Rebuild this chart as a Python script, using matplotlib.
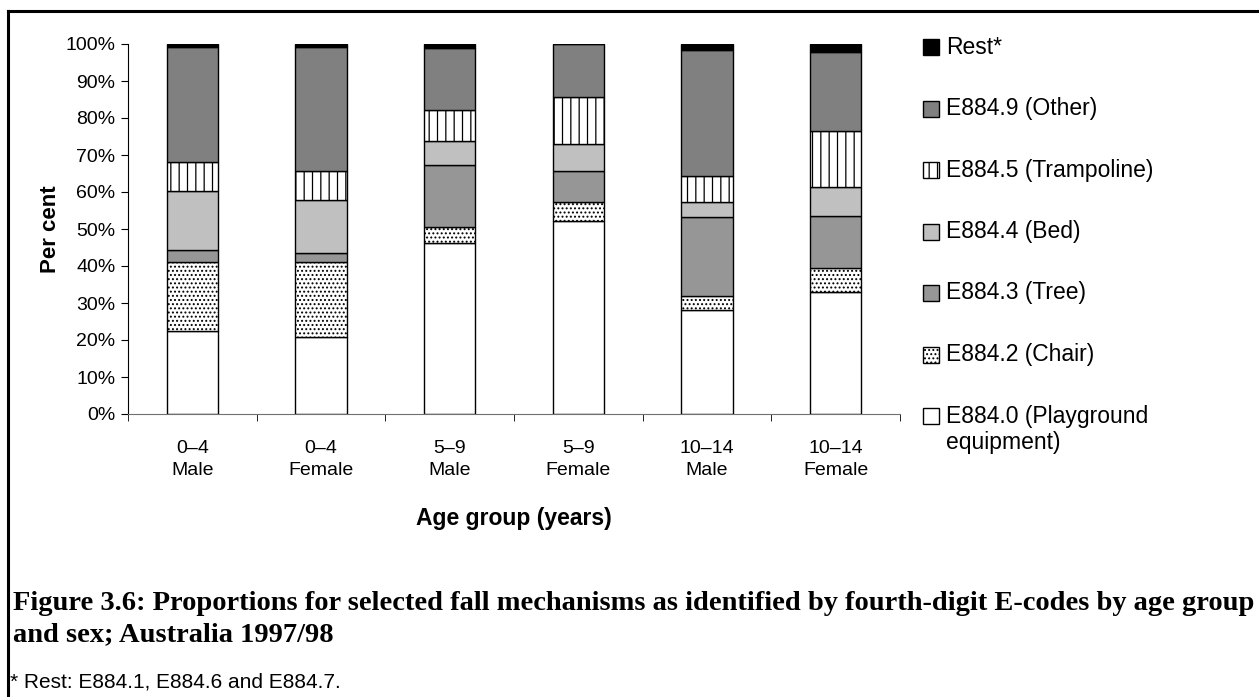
import matplotlib.pyplot as plt
import numpy as np
from matplotlib.patches import Rectangle
from matplotlib.lines import Line2D
from matplotlib.ticker import PercentFormatter

plt.rcParams['font.family'] = ['Liberation Sans', 'DejaVu Sans']
plt.rcParams['hatch.linewidth'] = 0.9

# Categories (age group / sex)
groups = ['0\u20134\nMale', '0\u20134\nFemale', '5\u20139\nMale',
          '5\u20139\nFemale', '10\u201314\nMale', '10\u201314\nFemale']

# Proportions (%), bottom to top
playground = [22.5, 20.9, 46.3, 52.2, 28.1, 32.9]
chair = [18.7, 20.1, 4.3, 5.2, 3.9, 6.5]
tree = [3.0, 2.4, 16.8, 8.2, 21.2, 14.2]
bed = [16.0, 14.4, 6.5, 7.4, 4.2, 7.8]
trampoline = [7.8, 7.9, 8.3, 12.8, 6.9, 15.2]
other = [31.3, 33.5, 16.7, 14.2, 34.1, 21.3]
rest = [0.8, 0.8, 1.1, 0.0, 1.6, 2.1]

series = [
    ('E884.0 (Playground\nequipment)', playground, 'white', None),
    ('E884.2 (Chair)', chair, 'white', '....'),
    ('E884.3 (Tree)', tree, '#969696', None),
    ('E884.4 (Bed)', bed, '#c0c0c0', None),
    ('E884.5 (Trampoline)', trampoline, 'white', '||'),
    ('E884.9 (Other)', other, '#808080', None),
    ('Rest*', rest, 'black', None),
]

W, H = 1259, 697
fig = plt.figure(figsize=(W / 100, H / 100), dpi=100)
ax = fig.add_axes([128 / W, 1 - 414 / H, 772 / W, 370 / H])

x = np.arange(len(groups))
bottom = np.zeros(len(groups))
for label, vals, color, hatch in series:
    ax.bar(x, vals, width=0.4, bottom=bottom, color=color, edgecolor='black',
           linewidth=1.0, hatch=hatch)
    bottom += np.array(vals)

ax.set_xlim(-0.5, len(groups) - 0.5)
ax.set_ylim(0, 100)
ax.set_yticks(np.arange(0, 101, 10))
ax.yaxis.set_major_formatter(PercentFormatter(decimals=0))
ax.tick_params(axis='y', direction='out', length=5, labelsize=14, pad=4)

ax.set_xticks(x)
ax.set_xticklabels(groups, linespacing=1.35)
ax.set_xticks(np.arange(-0.5, len(groups)), minor=True)
ax.tick_params(axis='x', which='major', length=0, labelsize=14, pad=19)
ax.tick_params(axis='x', which='minor', direction='out', length=5)

ax.spines['top'].set_visible(False)
ax.spines['right'].set_visible(False)
ax.spines['bottom'].set_color('#707070')

ax.set_ylabel('Per cent', fontsize=16, fontweight='bold', labelpad=3)
ax.set_xlabel('Age group (years)', fontsize=16.5, fontweight='bold', labelpad=20)

# Legend drawn by hand so the two-line label keeps its box on the first line
for i, (label, vals, color, hatch) in enumerate(reversed(series)):
    yc = 47 + i * 61.5
    fig.patches.append(Rectangle((923 / W, 1 - (yc + 8) / H), 16 / W, 16 / H,
                                 transform=fig.transFigure, facecolor=color,
                                 edgecolor='black', linewidth=1.0, hatch=hatch))
    fig.text(946 / W, 1 - (yc - 11.5) / H, label, fontsize=16.5, va='top',
             ha='left', linespacing=1.2)

# Caption and footnote
fig.text(13 / W, 1 - 619 / H,
         'Figure 3.6: Proportions for selected fall mechanisms as identified '
         'by fourth-digit E-codes by age group\nand sex; Australia 1997/98',
         family='Liberation Serif', fontweight='bold', fontsize=20.5,
         va='center', ha='left', linespacing=1.3)
fig.text(10 / W, 1 - 682 / H, '* Rest: E884.1, E884.6 and E884.7.',
         fontsize=15, va='center', ha='left')

# Frame around the figure (top and left edges only)
fig.add_artist(Line2D([8 / W, 1], [1 - 11 / H, 1 - 11 / H], color='black',
                      linewidth=2.2, transform=fig.transFigure))
fig.add_artist(Line2D([8 / W, 8 / W], [1 - 11 / H, 0], color='black',
                      linewidth=2.2, transform=fig.transFigure))

plt.savefig('out.png', dpi=100)
